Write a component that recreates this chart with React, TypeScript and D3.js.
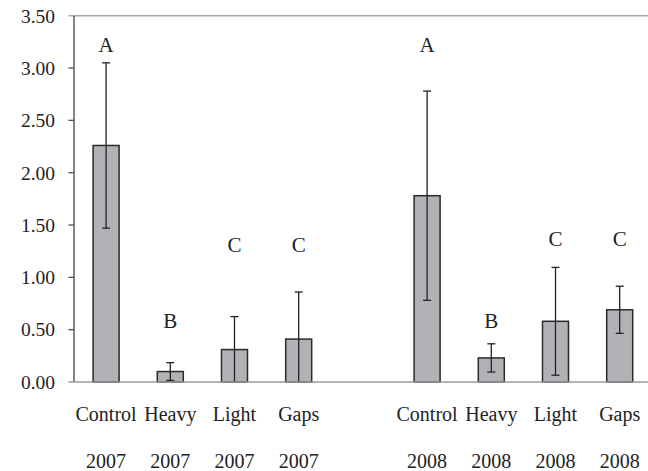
import React from "react";
import * as d3 from "d3";

const categories = ["Control", "Heavy", "Light", "Gaps", "Control", "Heavy", "Light", "Gaps"];
const years = ["2007", "2007", "2007", "2007", "2008", "2008", "2008", "2008"];
const slots = [0, 1, 2, 3, 5, 6, 7, 8];
const means = [2.26, 0.1, 0.31, 0.41, 1.78, 0.23, 0.58, 0.69];
const errors = [0.79, 0.085, 0.315, 0.45, 1.0, 0.135, 0.515, 0.225];
const letters = ["A", "B", "C", "C", "A", "B", "C", "C"];
const letterPos = [3.15, 0.52, 1.24, 1.24, 3.15, 0.52, 1.3, 1.3];
const yTicks = [0, 0.5, 1, 1.5, 2, 2.5, 3, 3.5];

const W = 648;
const H = 471;
const FONT = '"Liberation Serif"';

export default function App() {
  const x = d3
    .scaleBand<number>()
    .domain(d3.range(9))
    .range([74, 74 + 9 * 64.2])
    .paddingInner(0.595)
    .paddingOuter(0.595 / 2);
  const y = d3.scaleLinear().domain([0, 3.5]).range([382, 15.7]);
  const bw = x.bandwidth();
  const capW = 8;
  const ts = { fontFamily: FONT };

  return (
    <svg width={W} height={H} style={{ position: "absolute", left: 0, top: 0, background: "#fff" }}>
      <rect x={0} y={0} width={W} height={H} fill="#fff" />
      <line x1={68.5} x2={W} y1={y(3.5)} y2={y(3.5)} stroke="#a8a8a8" strokeWidth={1.6} />
      {yTicks.map((t) => (
        <g key={t}>
          {t > 0 && t < 3.5 && (
            <line x1={68.5} x2={74} y1={y(t)} y2={y(t)} stroke="#505050" strokeWidth={1.3} />
          )}
          <text x={55} y={y(t)} dy="0.35em" textAnchor="end" fontSize={19.5} fill="#222" style={ts}>
            {t.toFixed(2)}
          </text>
        </g>
      ))}
      {means.map((m, i) => {
        const x0 = x(slots[i])!;
        return (
          <rect
            key={"b" + i}
            x={x0}
            y={y(m)}
            width={bw}
            height={y(0) - y(m)}
            fill="#b2b2b6"
            stroke="#2a2a2a"
            strokeWidth={1.5}
          />
        );
      })}
      {means.map((m, i) => {
        const cx = x(slots[i])! + bw / 2;
        const hi = m + errors[i];
        const loRaw = m - errors[i];
        const lo = Math.max(0, loRaw);
        return (
          <g key={"e" + i} stroke="#222" strokeWidth={1.3}>
            <line x1={cx} x2={cx} y1={y(hi)} y2={y(lo)} />
            <line x1={cx - capW / 2} x2={cx + capW / 2} y1={y(hi)} y2={y(hi)} />
            {loRaw >= 0 && (
              <line x1={cx - capW / 2} x2={cx + capW / 2} y1={y(lo)} y2={y(lo)} />
            )}
          </g>
        );
      })}
      <line x1={74} x2={74} y1={y(3.5)} y2={y(0)} stroke="#505050" strokeWidth={1.4} />
      <line x1={68.5} x2={W} y1={y(0)} y2={y(0)} stroke="#9a9a9a" strokeWidth={1.6} />
      {letters.map((l, i) => (
        <text
          key={"l" + i}
          x={x(slots[i])! + bw / 2}
          y={y(letterPos[i])}
          textAnchor="middle"
          fontSize={21}
          fill="#222"
          style={ts}
        >
          {l}
        </text>
      ))}
      {categories.map((c, i) => (
        <text
          key={"c" + i}
          x={x(slots[i])! + bw / 2}
          y={421}
          textAnchor="middle"
          fontSize={20}
          fill="#222"
          style={ts}
        >
          {c}
        </text>
      ))}
      {years.map((yr, i) => (
        <text
          key={"y" + i}
          x={x(slots[i])! + bw / 2}
          y={468}
          textAnchor="middle"
          fontSize={20}
          fill="#222"
          style={ts}
        >
          {yr}
        </text>
      ))}
    </svg>
  );
}
